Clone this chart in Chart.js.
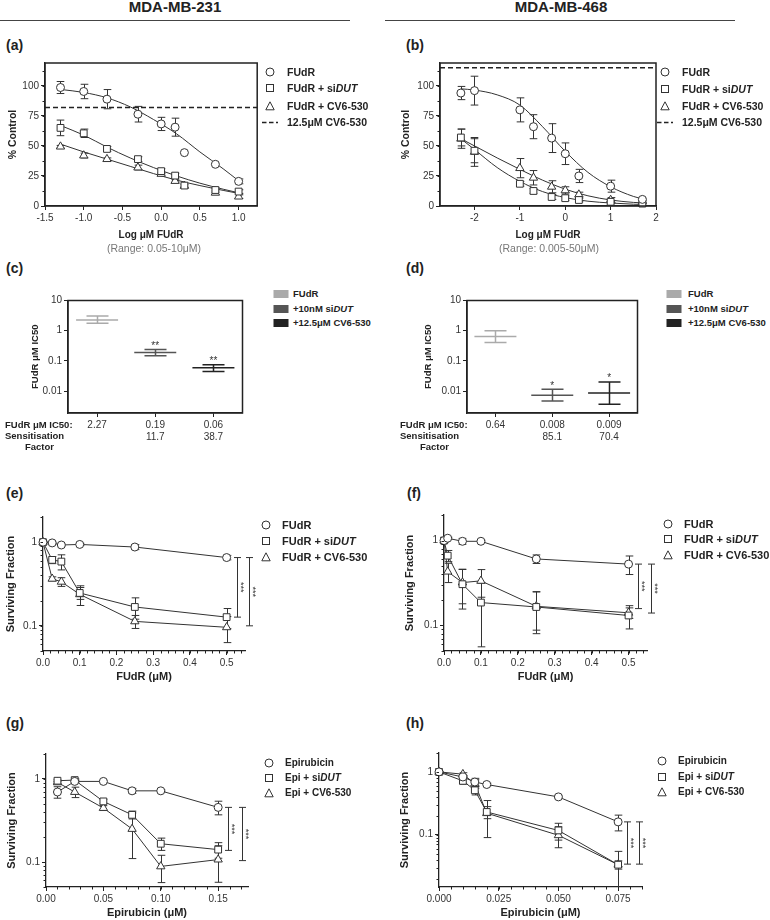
<!DOCTYPE html>
<html lang="en">
<head>
<meta charset="utf-8">
<title>FUdR sensitisation - MDA-MB-231 / MDA-MB-468</title>
<script src="https://cdn.jsdelivr.net/npm/chart.js@4.4.1/dist/chart.umd.min.js"></script>
<style>
  html, body { margin: 0; padding: 0; background: #fff; }
  body { font-family: "Liberation Sans", Arial, Helvetica, sans-serif; color: #222; }
  #page { position: relative; width: 770px; height: 920px; overflow: hidden; }
  #page canvas { position: absolute; z-index: 1; }
  .t { position: absolute; white-space: nowrap; z-index: 2; }
  .mk { position: absolute; z-index: 2; line-height: 0; }
  .head { font-size: 15px; font-weight: bold; line-height: 16px; width: 200px; text-align: center; }
  .rule { position: absolute; height: 1px; background: #444; }
  .letter { font-size: 14px; font-weight: bold; line-height: 16px; }
  .legS { font-size: 10.5px; font-weight: bold; line-height: 14px; }
  .legI { font-size: 9.5px; font-weight: bold; line-height: 14px; }
  .legM { font-size: 11px; font-weight: bold; line-height: 14px; }
  .legG { font-size: 10px; font-weight: bold; line-height: 14px; }
  .range { font-size: 10.5px; color: #777; line-height: 12px; width: 200px; text-align: center; }
  .rowh { font-size: 9.5px; font-weight: bold; line-height: 12px; }
</style>
</head>
<body>
<div id="page">
  <div class="t head" style="left:75px;top:-1px">MDA-MB-231</div>
  <div class="rule" style="left:0;top:20px;width:350px"></div>
  <div class="t head" style="left:461px;top:-1px">MDA-MB-468</div>
  <div class="rule" style="left:385px;top:20px;width:350px"></div>

  <div class="t letter" style="left:6px;top:37px">(a)</div>
  <div class="t letter" style="left:406px;top:37px">(b)</div>
  <div class="t letter" style="left:6px;top:260px">(c)</div>
  <div class="t letter" style="left:406px;top:260px">(d)</div>
  <div class="t letter" style="left:6px;top:485px">(e)</div>
  <div class="t letter" style="left:407px;top:485px">(f)</div>
  <div class="t letter" style="left:6px;top:715px">(g)</div>
  <div class="t letter" style="left:406px;top:715px">(h)</div>

  <div class="t range" style="left:54px;top:242px">(Range: 0.05-10μM)</div>
  <div class="t range" style="left:449px;top:242px">(Range: 0.005-50μM)</div>

  <div class="t rowh" style="left:5px;top:419px">FUdR μM IC50:</div>
  <div class="t rowh" style="left:5px;top:430px">Sensitisation</div>
  <div class="t rowh" style="left:25px;top:441px">Factor</div>
  <div class="t rowh" style="left:400px;top:419px">FUdR μM IC50:</div>
  <div class="t rowh" style="left:400px;top:430px">Sensitisation</div>
  <div class="t rowh" style="left:420px;top:441px">Factor</div>
</div>

<script>
// ---------- (a) MDA-MB-231, % control vs log uM FUdR ----------
const aX = [-1.3, -1.0, -0.7, -0.3, 0.0, 0.18, 0.3, 0.7, 1.0];
const aFudr = [98.6, 95.3, 88.9, 76.4, 68.3, 65.6, 44.4, 34.7, 20.5];
const aFudrErr = [5, 6, 8, 6.5, 5.5, 7.5, 0, 0, 2];
const aSidut = [65, 60.5, 47.5, 39, 29, 25.3, 17, 13.3, 12];
const aSidutErr = [6.5, 3.5, 2, 2, 2, 2, 1.5, 2, 1.5];
const aCv6 = [49.4, 42, 39, 32, 26.7, 20.8, 16.7, 11, 7.8];
const aCv6Err = [1, 2, 1, 2, 1, 1, 1, 1.5, 1.5];
const aFitX = [-1.3, -1.0, -0.7, -0.4, -0.1, 0.2, 0.5, 0.8, 1.0];
const aFudrFit = [97, 94.5, 90, 82.5, 72, 60, 45, 31, 21];
const aSidutFit = [67, 59, 49, 40, 32, 25, 19, 14, 11];
const aCv6Fit = [51.5, 45, 39, 33, 27, 21.5, 17, 13, 10.5];
const aCv6Alone = 82;
const aXTicks = [-1.5, -1.0, -0.5, 0.0, 0.5, 1.0];

// ---------- (b) MDA-MB-468 ----------
const bX = [-2.3, -2.0, -1.0, -0.7, -0.3, 0.0, 0.3, 1.0, 1.7];
const bFudr = [94, 96, 80, 66, 56.5, 43.5, 25, 16.5, 5.5];
const bFudrErr = [5.5, 12, 10, 10, 12, 9, 5.5, 5, 1];
const bSidut = [57, 46, 18.5, 12.5, 7.5, 6.5, 5, 3.5, 2];
const bSidutErr = [7, 10, 2, 2, 2, 2, 1.5, 1, 1];
const bCv6 = [56, 45, 31.5, 23.5, 16, 13, 9.5, 5, 4];
const bCv6Err = [8, 12, 8, 6, 5, 3, 2, 2, 1];
const bFitX = [-2.3, -2.0, -1.5, -1.0, -0.5, 0.0, 0.5, 1.0, 1.5, 1.75];
const bFudrFit = [97.5, 96.5, 92.5, 84, 66, 45.5, 28, 16, 8, 5.5];
const bSidutFit = [56, 47, 32, 20.5, 12, 7, 4, 2.5, 1.5, 1.2];
const bCv6Fit = [56, 50, 40, 30.5, 21.5, 14, 8.5, 5, 3, 2.5];
const bCv6Alone = 115;
const bXTicks = [-2, -1, 0, 1, 2];
const pctTicks = [0, 25, 50, 75, 100];

// ---------- (c)/(d) IC50 ----------
const icGroups = ['FUdR', '+10nM si<i>DUT</i>', '+12.5μM CV6-530'];
const icColors = ['#aaaaaa', '#555555', '#222222'];
const icPos = [1, 2, 3];
const cIc50 = [2.27, 0.19, 0.06];
const cLo = [1.77, 0.15, 0.045];
const cHi = [3.1, 0.24, 0.075];
const cIc50Text = ['2.27', '0.19', '0.06'];
const cSens = ['', '11.7', '38.7'];
const cStars = ['', '**', '**'];
const dIc50 = [0.65, 0.0074, 0.0087];
const dLo = [0.41, 0.0047, 0.0037];
const dHi = [1.0, 0.0115, 0.0203];
const dIc50Text = ['0.64', '0.008', '0.009'];
const dSens = ['', '85.1', '70.4'];
const dStars = ['', '*', '*'];
const icYTicks = [0.01, 0.1, 1, 10];

// ---------- (e) MDA-MB-231 clonogenic, FUdR ----------
const eX = [0, 0.025, 0.05, 0.1, 0.25, 0.5];
const eFudr = [1.0, 0.98, 0.925, 0.94, 0.875, 0.655];
const eFudrErr = [0.02, 0.02, 0.03, 0.03, 0.06, 0.04];
const eSidut = [1.0, 0.614, 0.586, 0.247, 0.168, 0.127];
const eSidutErr = [0.03, 0.06, 0.12, 0.04, 0.048, 0.034];
const eCv6 = [1.0, 0.365, 0.336, 0.238, 0.113, 0.096];
const eCv6Err = [0.02, 0.02, 0.04, 0.063, 0.02, 0.033];
const eSigX = [0.528, 0.56];
const eSigTop = [0.655, 0.655];
const eSigBot = [0.127, 0.1];

// ---------- (f) MDA-MB-468 clonogenic, FUdR ----------
const fX = [0, 0.01, 0.05, 0.1, 0.25, 0.5];
const fFudr = [1.0, 1.065, 0.98, 0.98, 0.607, 0.528];
const fFudrErr = [0.03, 0.03, 0.08, 0.03, 0.07, 0.13];
const fSidut = [1.0, 0.664, 0.306, 0.186, 0.165, 0.131];
const fSidutErr = [0.03, 0.1, 0.15, 0.13, 0.085, 0.04];
const fCv6 = [1.0, 0.43, 0.32, 0.335, 0.168, 0.141];
const fCv6Err = [0.03, 0.11, 0.14, 0.12, 0.08, 0.02];
const fSigX = [0.526, 0.56];
const fSigTop = [0.528, 0.528];
const fSigBot = [0.158, 0.14];

// ---------- (g) MDA-MB-231 clonogenic, epirubicin ----------
const gX = [0.01, 0.025, 0.05, 0.075, 0.1, 0.15];
const gEpi = [0.697, 0.935, 0.935, 0.72, 0.72, 0.455];
const gEpiErr = [0.11, 0.03, 0.03, 0.05, 0.02, 0.085];
const gSidut = [0.953, 0.97, 0.537, 0.37, 0.166, 0.141];
const gSidutErr = [0.03, 0.03, 0.03, 0.04, 0.028, 0.03];
const gCv6 = [0.91, 0.697, 0.447, 0.25, 0.0885, 0.107];
const gCv6Err = [0.03, 0.1, 0.03, 0.14, 0.032, 0.05];
const gSigX = [0.159, 0.171];
const gSigTop = [0.455, 0.455];
const gSigBot = [0.138, 0.104];

// ---------- (h) MDA-MB-468 clonogenic, epirubicin ----------
const hX = [0, 0.01, 0.015, 0.02, 0.05, 0.075];
const hEpi = [1.0, 0.83, 0.69, 0.63, 0.4, 0.16];
const hEpiErr = [0.02, 0.05, 0.1, 0.03, 0.02, 0.045];
const hSidut = [1.0, 0.72, 0.51, 0.23, 0.117, 0.0333];
const hSidutErr = [0.02, 0.08, 0.08, 0.05, 0.035, 0.005];
const hCv6 = [1.0, 0.92, 0.65, 0.22, 0.098, 0.0333];
const hCv6Err = [0.02, 0.05, 0.1, 0.13, 0.036, 0.021];
const hSigX = [0.0788, 0.0837];
const hSigTop = [0.16, 0.16];
const hSigBot = [0.034, 0.034];

const sfTicks = [0.1, 1];

// legend labels
const legFudr = ['FUdR', 'FUdR + si<i>DUT</i>', 'FUdR + CV6-530', '12.5μM CV6-530'];
const legEpi = ['Epirubicin', 'Epi + si<i>DUT</i>', 'Epi + CV6-530'];

const FONT = '"Liberation Sans", Arial, Helvetica, sans-serif';
Chart.defaults.font.family = FONT;
Chart.defaults.color = '#333';
Chart.defaults.animation = false;
Chart.defaults.events = [];
Chart.defaults.plugins.legend.display = false;
Chart.defaults.plugins.tooltip.enabled = false;

const page = document.getElementById('page');

// error bars (mean +/- err), drawn under the markers
const errorBars = {
  id: 'errorBars',
  beforeDatasetsDraw(chart) {
    const { ctx } = chart;
    const xs = chart.scales.x, ys = chart.scales.y;
    chart.data.datasets.forEach(ds => {
      if (!ds.errHi) return;
      const cap = ds.capHalf || 3.8;
      ctx.save();
      ctx.lineWidth = ds.errWidth || 1;
      ds.data.forEach((p, i) => {
        const hi = ds.errHi[i], lo = ds.errLo[i];
        if (hi == null || hi === lo) return;
        const px = Math.round(xs.getPixelForValue(p.x)) + 0.5;
        const yTop = ys.getPixelForValue(hi);
        const yBot = ys.getPixelForValue(Math.max(lo, ys.min));
        ctx.strokeStyle = ds.errColor ? ds.errColor[i] : '#333';
        ctx.beginPath();
        ctx.moveTo(px, yTop); ctx.lineTo(px, yBot);
        ctx.moveTo(px - cap, yTop); ctx.lineTo(px + cap, yTop);
        if (lo > ys.min) { ctx.moveTo(px - cap, yBot); ctx.lineTo(px + cap, yBot); }
        ctx.stroke();
      });
      ctx.restore();
    });
  },
  afterDatasetsDraw(chart) {
    const { ctx } = chart;
    const xs = chart.scales.x, ys = chart.scales.y;
    chart.data.datasets.forEach(ds => {
      if (!ds.stars) return;
      ctx.save();
      ctx.fillStyle = '#333';
      ctx.font = '10px ' + FONT;
      ctx.textAlign = 'center';
      ctx.textBaseline = 'alphabetic';
      ds.data.forEach((p, i) => {
        if (!ds.stars[i]) return;
        ctx.fillText(ds.stars[i], xs.getPixelForValue(p.x), ys.getPixelForValue(ds.errHi[i]) - 0.5);
      });
      ctx.restore();
    });
  }
};

// significance brackets with rotated asterisks
const sigBars = {
  id: 'sigBars',
  afterDatasetsDraw(chart, args, o) {
    if (!o.x) return;
    const { ctx } = chart;
    const xs = chart.scales.x, ys = chart.scales.y;
    ctx.save();
    ctx.strokeStyle = '#333';
    ctx.fillStyle = '#333';
    ctx.lineWidth = 1;
    ctx.font = '9px ' + FONT;
    o.x.forEach((xv, i) => {
      const px = Math.round(xs.getPixelForValue(xv)) + 0.5;
      const y1 = ys.getPixelForValue(o.top[i]);
      const y2 = ys.getPixelForValue(o.bot[i]);
      ctx.beginPath();
      ctx.moveTo(px, y1); ctx.lineTo(px, y2);
      ctx.moveTo(px - 3.5, y1); ctx.lineTo(px + 3.5, y1);
      ctx.moveTo(px - 3.5, y2); ctx.lineTo(px + 3.5, y2);
      ctx.stroke();
      ctx.save();
      ctx.translate(px, (y1 + y2) / 2);
      ctx.rotate(Math.PI / 2);
      ctx.textAlign = 'center';
      ctx.textBaseline = 'alphabetic';
      ctx.fillText(o.label || '***', 0, 0);
      ctx.restore();
    });
    ctx.restore();
  }
};

// small unlabeled ticks outside the axes
const minorTicks = {
  id: 'minorTicks',
  afterDraw(chart, args, o) {
    const { ctx, chartArea: ca } = chart;
    const x = chart.scales.x, y = chart.scales.y;
    const xv = [], yv = [];
    if (o.xStep) for (let k = 0; x.min + k * o.xStep <= x.max + 1e-9; k++) xv.push(x.min + k * o.xStep);
    if (o.yStep) for (let k = 0; y.min + k * o.yStep <= y.max + 1e-9; k++) yv.push(y.min + k * o.yStep);
    if (o.yLog) {
      for (let d = 0.001; d < 100; d *= 10) {
        for (let k = 1; k < 10; k++) {
          const v = d * k;
          if (v >= y.min * 0.999 && v <= y.max * 1.001) yv.push(v);
        }
      }
    }
    if (!xv.length && !yv.length) return;
    ctx.save();
    ctx.strokeStyle = '#222';
    ctx.lineWidth = 1;
    ctx.beginPath();
    xv.forEach(v => {
      const px = Math.round(x.getPixelForValue(v)) + 0.5;
      ctx.moveTo(px, ca.bottom); ctx.lineTo(px, ca.bottom + 2.5);
    });
    yv.forEach(v => {
      const py = Math.round(y.getPixelForValue(v)) + 0.5;
      ctx.moveTo(ca.left, py); ctx.lineTo(ca.left - 2.5, py);
    });
    ctx.stroke();
    ctx.restore();
  }
};

// closed box around the plot area
const frame = {
  id: 'frame',
  afterDraw(chart, args, o) {
    if (!o.on) return;
    const { ctx, chartArea: ca } = chart;
    ctx.save();
    ctx.strokeStyle = '#222';
    ctx.lineWidth = 1.5;
    ctx.strokeRect(ca.left, ca.top, ca.right - ca.left, ca.bottom - ca.top);
    ctx.restore();
  }
};

Chart.register(errorBars, sigBars, minorTicks, frame);

function axis(o) {
  return {
    type: o.log ? 'logarithmic' : 'linear',
    min: o.min, max: o.max, bounds: 'data',
    afterBuildTicks: s => { s.ticks = o.ticks.map(v => ({ value: v })); },
    ticks: {
      callback: o.fmt, font: { size: 10 }, color: '#333', padding: 2,
      maxRotation: 0, minRotation: 0, autoSkip: false
    },
    grid: { drawOnChartArea: false, drawTicks: true, tickLength: 4, tickColor: '#222', tickWidth: 1 },
    border: { display: true, color: '#222', width: 1.3 },
    title: o.title
      ? { display: true, text: o.title, color: '#222', font: { size: o.tsize, weight: 'bold' }, padding: o.tpad }
      : { display: false }
  };
}

function pts(xs, ys) {
  return xs.map((x, i) => ({ x, y: ys[i] }));
}

function markers(xs, ys, errs, style, joined) {
  return {
    data: pts(xs, ys),
    showLine: !!joined, borderColor: '#333', borderWidth: 1, tension: 0,
    pointStyle: style, pointRadius: style === 'circle' ? 4 : 4.8,
    pointBackgroundColor: '#fff', pointBorderColor: '#333', pointBorderWidth: 1,
    clip: false,
    errLo: ys.map((v, i) => v - errs[i]),
    errHi: ys.map((v, i) => v + errs[i])
  };
}

function fitLine(xs, ys) {
  return {
    data: pts(xs, ys), showLine: true, pointRadius: 0,
    borderColor: '#333', borderWidth: 1, cubicInterpolationMode: 'monotone', clip: false
  };
}

function flatLine(x0, x1, v) {
  return {
    data: [{ x: x0, y: v }, { x: x1, y: v }], showLine: true, pointRadius: 0,
    borderColor: '#222', borderWidth: 1.6, borderDash: [5, 3]
  };
}

function ic50Set(vals, lo, hi, stars) {
  return {
    data: pts(icPos, vals), showLine: false,
    pointStyle: 'line', pointRadius: 21, pointBorderWidth: 1.5,
    pointBorderColor: icColors, errColor: icColors, errWidth: 1.5, capHalf: 11,
    errLo: lo, errHi: hi, stars, clip: false
  };
}

// canvas placed so that the plot area lands on plot {l,t,r,b}
function panel(pos, plot, datasets, scales, plugins) {
  const cv = document.createElement('canvas');
  cv.width = pos.w;
  cv.height = pos.h;
  cv.style.left = pos.left + 'px';
  cv.style.top = pos.top + 'px';
  page.appendChild(cv);
  scales.x.afterFit = s => { s.height = pos.top + pos.h - plot.b; };
  scales.y.afterFit = s => { s.width = plot.l - pos.left; };
  return new Chart(cv, {
    type: 'scatter',
    data: { datasets },
    options: {
      responsive: false, devicePixelRatio: 1,
      layout: { padding: { left: 0, bottom: 0, top: plot.t - pos.top, right: pos.left + pos.w - plot.r } },
      scales,
      plugins: Object.assign({ legend: { display: false } }, plugins || {})
    }
  });
}

const fmt1 = v => v.toFixed(1);
const fmtInt = v => String(v);
const fmtPlain = v => String(v);

// (a)
panel({ left: 0, top: 55, w: 263, h: 190 }, { l: 45, t: 63, r: 260, b: 206 }, [
  markers(aX, aFudr, aFudrErr, 'circle'),
  markers(aX, aSidut, aSidutErr, 'rect'),
  markers(aX, aCv6, aCv6Err, 'triangle'),
  fitLine(aFitX, aFudrFit),
  fitLine(aFitX, aSidutFit),
  fitLine(aFitX, aCv6Fit),
  flatLine(-1.5, 1.24, aCv6Alone)
], {
  x: axis({ min: -1.5, max: 1.24, ticks: aXTicks, fmt: fmt1, title: 'Log μM FUdR', tsize: 10, tpad: { top: 0, bottom: 4 } }),
  y: axis({ min: 0, max: 119, ticks: pctTicks, fmt: fmtInt, title: '% Control', tsize: 10.5, tpad: { top: 6.7, bottom: 0 } })
}, { frame: { on: true }, minorTicks: { yStep: 12.5 } });

// (b)
panel({ left: 385, top: 55, w: 280, h: 190 }, { l: 440, t: 63, r: 656, b: 206 }, [
  markers(bX, bFudr, bFudrErr, 'circle'),
  markers(bX, bSidut, bSidutErr, 'rect'),
  markers(bX, bCv6, bCv6Err, 'triangle'),
  fitLine(bFitX, bFudrFit),
  fitLine(bFitX, bSidutFit),
  fitLine(bFitX, bCv6Fit),
  flatLine(-2.76, 2.0, bCv6Alone)
], {
  x: axis({ min: -2.76, max: 2.0, ticks: bXTicks, fmt: fmtInt, title: 'Log μM FUdR', tsize: 10, tpad: { top: 0, bottom: 4 } }),
  y: axis({ min: 0, max: 119, ticks: pctTicks, fmt: fmtInt, title: '% Control', tsize: 10.5, tpad: { top: 14.7, bottom: 0 } })
}, { frame: { on: true }, minorTicks: { yStep: 12.5 } });

// (c)
panel({ left: 0, top: 278, w: 265, h: 170 }, { l: 68, t: 286, r: 263, b: 413 }, [
  ic50Set(cIc50, cLo, cHi, cStars)
], {
  x: axis({ min: 0.5, max: 3.5, ticks: icPos, fmt: (v, i) => [cIc50Text[i], cSens[i]] }),
  y: axis({ log: true, min: 0.0019, max: 10, ticks: icYTicks, fmt: fmtPlain, title: 'FUdR μM IC50', tsize: 9.5, tpad: { top: 29.8, bottom: 0 } })
}, { frame: { on: true } });

// (d)
panel({ left: 385, top: 278, w: 275, h: 170 }, { l: 467, t: 286, r: 658, b: 413 }, [
  ic50Set(dIc50, dLo, dHi, dStars)
], {
  x: axis({ min: 0.5, max: 3.5, ticks: icPos, fmt: (v, i) => [dIc50Text[i], dSens[i]] }),
  y: axis({ log: true, min: 0.0019, max: 10, ticks: icYTicks, fmt: fmtPlain, title: 'FUdR μM IC50', tsize: 9.5, tpad: { top: 37.6, bottom: 0 } })
}, { frame: { on: true } });

// (e)
panel({ left: 0, top: 505, w: 262, h: 183 }, { l: 43, t: 517, r: 245, b: 651 }, [
  markers(eX, eFudr, eFudrErr, 'circle', true),
  markers(eX, eSidut, eSidutErr, 'rect', true),
  markers(eX, eCv6, eCv6Err, 'triangle', true)
], {
  x: axis({ min: 0, max: 0.55, ticks: [0, 0.1, 0.2, 0.3, 0.4, 0.5], fmt: fmt1, title: 'FUdR (μM)', tsize: 11, tpad: { top: 0, bottom: 4.7 } }),
  y: axis({ log: true, min: 0.05, max: 2, ticks: sfTicks, fmt: fmtPlain, title: 'Surviving Fraction', tsize: 11, tpad: { top: 3.9, bottom: 0 } })
}, { sigBars: { x: eSigX, top: eSigTop, bot: eSigBot }, minorTicks: { xStep: 0.02, yLog: true } });

// (f)
panel({ left: 385, top: 505, w: 277, h: 183 }, { l: 444, t: 515, r: 647, b: 651 }, [
  markers(fX, fFudr, fFudrErr, 'circle', true),
  markers(fX, fSidut, fSidutErr, 'rect', true),
  markers(fX, fCv6, fCv6Err, 'triangle', true)
], {
  x: axis({ min: 0, max: 0.55, ticks: [0, 0.1, 0.2, 0.3, 0.4, 0.5], fmt: fmt1, title: 'FUdR (μM)', tsize: 11, tpad: { top: 0, bottom: 4.7 } }),
  y: axis({ log: true, min: 0.05, max: 2, ticks: sfTicks, fmt: fmtPlain, title: 'Surviving Fraction', tsize: 11, tpad: { top: 17.9, bottom: 0 } })
}, { sigBars: { x: fSigX, top: fSigTop, bot: fSigBot }, minorTicks: { xStep: 0.02, yLog: true } });

// (g)
panel({ left: 0, top: 745, w: 262, h: 175 }, { l: 46, t: 754, r: 248, b: 887 }, [
  markers(gX, gEpi, gEpiErr, 'circle', true),
  markers(gX, gSidut, gSidutErr, 'rect', true),
  markers(gX, gCv6, gCv6Err, 'triangle', true)
], {
  x: axis({ min: 0, max: 0.176, ticks: [0, 0.05, 0.1, 0.15], fmt: v => v.toFixed(2), title: 'Epirubicin (μM)', tsize: 11, tpad: { top: 0, bottom: 0.1 } }),
  y: axis({ log: true, min: 0.05, max: 2, ticks: sfTicks, fmt: fmtPlain, title: 'Surviving Fraction', tsize: 11, tpad: { top: 5.1, bottom: 0 } })
}, { sigBars: { x: gSigX, top: gSigTop, bot: gSigBot }, minorTicks: { xStep: 0.01, yLog: true } });

// (h)
panel({ left: 385, top: 745, w: 277, h: 175 }, { l: 439, t: 753, r: 642, b: 887 }, [
  markers(hX, hEpi, hEpiErr, 'circle', true),
  markers(hX, hSidut, hSidutErr, 'rect', true),
  markers(hX, hCv6, hCv6Err, 'triangle', true)
], {
  x: axis({ min: 0, max: 0.085, ticks: [0, 0.025, 0.05, 0.075], fmt: v => v.toFixed(3), title: 'Epirubicin (μM)', tsize: 11, tpad: { top: 0, bottom: 0.1 } }),
  y: axis({ log: true, min: 0.0147, max: 2, ticks: sfTicks, fmt: fmtPlain, title: 'Surviving Fraction', tsize: 11, tpad: { top: 13.4, bottom: 0 } })
}, { sigBars: { x: hSigX, top: hSigTop, bot: hSigBot }, minorTicks: { xStep: 0.005, yLog: true } });

// ---------- legends (html) ----------
const SHAPES = {
  circle: '<circle cx="8" cy="6" r="4" fill="#fff" stroke="#333"/>',
  rect: '<rect x="4.5" y="2.5" width="7" height="7" fill="#fff" stroke="#333"/>',
  triangle: '<path d="M8 1.8L12.2 9.8H3.8Z" fill="#fff" stroke="#333"/>',
  dash: '<path d="M0 6.5H16" stroke="#222" stroke-width="1.6" stroke-dasharray="4.5 2.5"/>'
};

function addLegend(mx, tx, ys, shapes, labels, cls) {
  ys.forEach((y, i) => {
    const m = document.createElement('div');
    m.className = 'mk';
    m.style.left = (mx - 8) + 'px';
    m.style.top = (y - 6) + 'px';
    const sh = shapes[i];
    m.innerHTML = '<svg width="16" height="12">' +
      (SHAPES[sh] || '<rect x="0.5" y="2" width="15" height="8" fill="' + sh + '"/>') + '</svg>';
    page.appendChild(m);
    const t = document.createElement('div');
    t.className = 't ' + cls;
    t.style.left = tx + 'px';
    t.style.top = (y - 7) + 'px';
    t.innerHTML = labels[i];
    page.appendChild(t);
  });
}

const shapes4 = ['circle', 'rect', 'triangle', 'dash'];
addLegend(270, 287, [71.7, 88.3, 105.5, 121.7], shapes4, legFudr, 'legS');
addLegend(665, 682, [71.7, 89, 106, 121.7], shapes4, legFudr, 'legS');
addLegend(280.5, 293, [294.3, 309, 323.3], icColors, icGroups, 'legI');
addLegend(674, 688, [294.3, 308.7, 323.3], icColors, icGroups, 'legI');
addLegend(266, 282, [525.3, 541, 556.7], shapes4, legFudr, 'legM');
addLegend(667.7, 684, [524, 539.3, 555], shapes4, legFudr, 'legM');
addLegend(269.3, 285, [762.7, 778.3, 793.3], shapes4, legEpi, 'legG');
addLegend(662.3, 678, [761, 776.7, 792.3], shapes4, legEpi, 'legG');
</script>
</body>
</html>
